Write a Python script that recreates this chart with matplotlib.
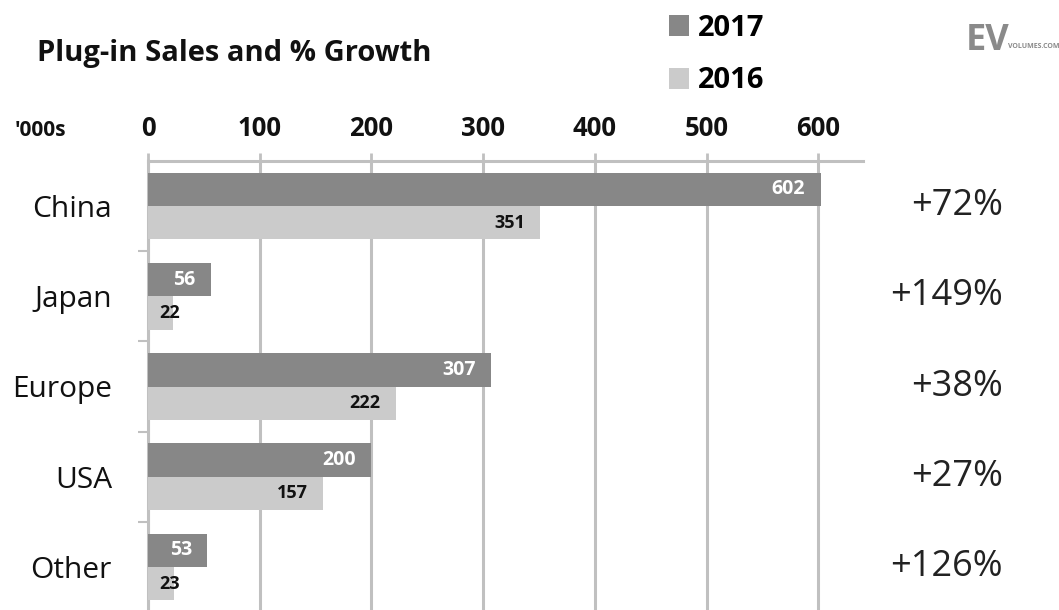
import matplotlib

matplotlib.use("Agg")
import matplotlib.pyplot as plt
from matplotlib.transforms import blended_transform_factory
import numpy as np

plt.rcParams["font.family"] = ["Open Sans", "DejaVu Sans"]

# data ('000s)
categories = ["China", "Japan", "Europe", "USA", "Other"]
sales_2017 = [602, 56, 307, 200, 53]
sales_2016 = [351, 22, 222, 157, 23]
growth = ["+72%", "+149%", "+38%", "+27%", "+126%"]
years = ["2017", "2016"]
xticks = [0, 100, 200, 300, 400, 500, 600]

C17 = "#878787"
C16 = "#cbcbcb"
GRID = "#c0c0c0"

W, H = 1059, 610
fig = plt.figure(figsize=(W / 100, H / 100), dpi=100)
# axes placed in pixel terms: x=0 at 148px, top at 161px, runs past bottom edge
ax = fig.add_axes([148 / W, 1 - 612 / H, 715 / W, (612 - 161) / H])

y = np.arange(len(categories))
bh = 0.37
b17 = ax.barh(y - bh / 2, sales_2017, height=bh, color=C17, label=years[0], zorder=3)
b16 = ax.barh(y + bh / 2, sales_2016, height=bh, color=C16, label=years[1], zorder=3)

ax.set_xlim(0, 640)
ax.set_ylim(len(categories) - 0.5, -0.5)

# value labels inside bar ends
for yy, v in zip(y, sales_2017):
    ax.annotate(str(v), (v, yy - bh / 2), xytext=(-11, 0), textcoords="offset points",
                ha="right", va="center", color="white", fontsize=14, fontweight="bold",
                zorder=4)
for yy, v in zip(y, sales_2016):
    if v < 40:
        ax.annotate(str(v), (0, yy + bh / 2), xytext=(8, 0), textcoords="offset points",
                    ha="left", va="center", color="#111111", fontsize=13,
                    fontweight="bold", zorder=4)
    else:
        ax.annotate(str(v), (v, yy + bh / 2), xytext=(-11, 0), textcoords="offset points",
                    ha="right", va="center", color="#111111", fontsize=13,
                    fontweight="bold", zorder=4)

# axes styling: top axis with ticks, vertical gridlines, left spine with boundary ticks
ax.xaxis.tick_top()
ax.set_xticks(xticks)
ax.set_xticklabels([str(t) for t in xticks], fontsize=18.5, fontweight="bold",
                   color="#111111")
ax.tick_params(axis="x", which="major", direction="out", length=6, width=2,
               color=GRID, pad=8)
ax.grid(axis="x", color=GRID, lw=2.2, zorder=0)
ax.set_axisbelow(True)

ax.set_yticks(y)
ax.set_yticklabels(categories, fontsize=21.5, color="#111111")
ax.tick_params(axis="y", which="major", length=0, pad=26)
ax.set_yticks(y[:-1] + 0.5, minor=True)
ax.tick_params(axis="y", which="minor", direction="out", length=7, width=1.5, color=GRID)

for s in ["right", "bottom"]:
    ax.spines[s].set_visible(False)
ax.spines["top"].set_color(GRID)
ax.spines["top"].set_linewidth(2.2)
ax.spines["left"].set_color(GRID)
ax.spines["left"].set_linewidth(2.2)

# growth percentages on the right
tr = blended_transform_factory(fig.transFigure, ax.transData)
for yy, g in zip(y, growth):
    ax.text(1003 / W, yy, g, transform=tr, ha="right", va="center", fontsize=26,
            color="#222222")

# title, units, legend, logo
fig.text(37 / W, 1 - 53 / H, "Plug-in Sales and % Growth", fontsize=21,
         fontweight="bold", ha="left", va="center", color="#111111")
fig.text(15 / W, 1 - 131 / H, "'000s", fontsize=15, fontweight="bold",
         ha="left", va="center", color="#111111")

fig.legend(handles=[b17, b16], labels=years, loc="upper left",
           bbox_to_anchor=(654 / W, 1 + 1 / H), frameon=False, borderpad=0,
           handlelength=0.7, handleheight=0.7, handletextpad=0.3,
           labelspacing=0.82, prop={"size": 21, "weight": "bold"})

fig.text(966 / W, 1 - 41 / H, "EV", fontsize=26, fontweight="bold",
         ha="left", va="center", color="#8a8a8a")
fig.text(1008 / W, 1 - 46 / H, "VOLUMES.COM", fontsize=5, fontweight="bold",
         ha="left", va="center", color="#8a8a8a")

fig.savefig("out.png", dpi=100)
